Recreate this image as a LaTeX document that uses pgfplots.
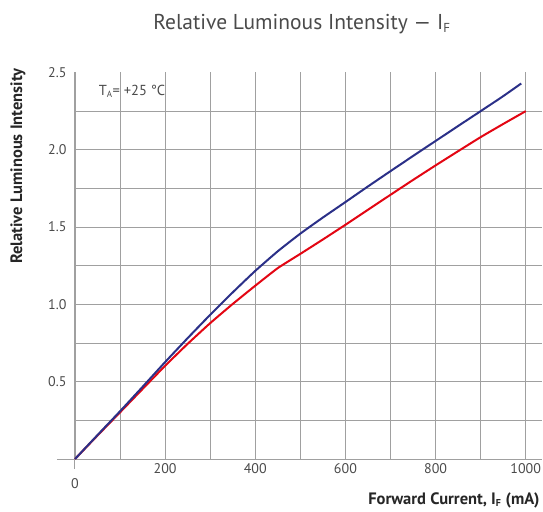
\documentclass[border=0pt]{standalone}
\usepackage{pgfplots}
\pgfplotsset{compat=1.18}
\usepackage{fontspec}
\setmainfont{PT Sans}
\definecolor{ledblue}{HTML}{2B3088}
\definecolor{ledred}{HTML}{E30613}
\definecolor{gridgray}{HTML}{A0A0A0}
\definecolor{txtgray}{HTML}{4A4A4A}
\begin{document}
\begin{tikzpicture}
\begin{axis}[
    at={(0pt,0pt)}, anchor=south west,
    scale only axis,
    width=466.5pt, height=386.5pt,
    xmin=0, xmax=1035, ymin=0, ymax=2.5,
    axis line style={draw=none},
    clip=false,
    grid=major,
    major grid style={gridgray, line width=0.9pt},
    major tick length=0pt,
    xtick={0,100,...,1000},
    xticklabels={,,200,,400,,600,,800,,1000},
    ytick={0,0.25,...,2.25},
    yticklabels={,,0.5,,1.0,,1.5,,2.0,},
    extra y ticks={2.5},
    extra y tick labels={2.5},
    extra y tick style={grid=none},
    extra x ticks={0},
    extra x tick labels={0},
    extra x tick style={grid=none, xticklabel style={yshift=-15pt}},
    tick label style={font=\fontsize{14}{16}\selectfont, text=txtgray},
    xticklabel style={yshift=-1pt},
    yticklabel style={xshift=-5pt},
    /pgf/number format/assume math mode=true,
]
\draw[gridgray, line width=1pt] (axis cs:0,-0.065) -- (axis cs:0,2.5);
\draw[gridgray, line width=1pt] (axis cs:-40,0) -- (axis cs:1035,0);

\addplot[ledred, line width=2pt, smooth, tension=0.3] coordinates {
(0,0) (50,0.152) (100,0.302) (150,0.453) (200,0.603) (250,0.745)
(300,0.879) (350,1.003) (400,1.121) (450,1.235) (500,1.327) (550,1.420)
(600,1.515) (650,1.612) (700,1.709) (750,1.805) (800,1.899) (850,1.991)
(900,2.082) (950,2.167) (1000,2.250)};

\addplot[ledblue, line width=2pt, smooth, tension=0.3] coordinates {
(0,0) (50,0.155) (100,0.309) (150,0.467) (200,0.627) (250,0.782)
(300,0.933) (350,1.078) (400,1.217) (450,1.344) (500,1.458) (550,1.562)
(600,1.662) (650,1.763) (700,1.862) (750,1.960) (800,2.057) (850,2.154)
(900,2.250) (950,2.347) (990,2.429)};

\node[anchor=west, text=txtgray, font=\fontsize{14.5}{16}\selectfont]
  at (axis cs:45,2.38) {T\textsubscript{\fontsize{9}{10}\selectfont A}= +25 °C};
\end{axis}
% title and axis labels
\node[text=txtgray, font=\fontsize{21.5}{24}\selectfont] at (227pt,435pt)
  {Relative Luminous Intensity — I\textsubscript{\fontsize{13}{14}\selectfont F}};
\node[rotate=90, anchor=east, text=black!85, font=\bfseries\fontsize{16.5}{18}\selectfont]
  at (-57pt,394pt) {Relative Luminous Intensity};
\node[anchor=east, text=black!85, font=\bfseries\fontsize{16.5}{18}\selectfont]
  at (468pt,-41pt) {Forward Current, I\textsubscript{\fontsize{10}{11}\selectfont F} (mA)};
\pgfresetboundingbox
\path[use as bounding box] (-75pt,-52pt) rectangle (468pt,459pt);
\end{tikzpicture}
\end{document}
